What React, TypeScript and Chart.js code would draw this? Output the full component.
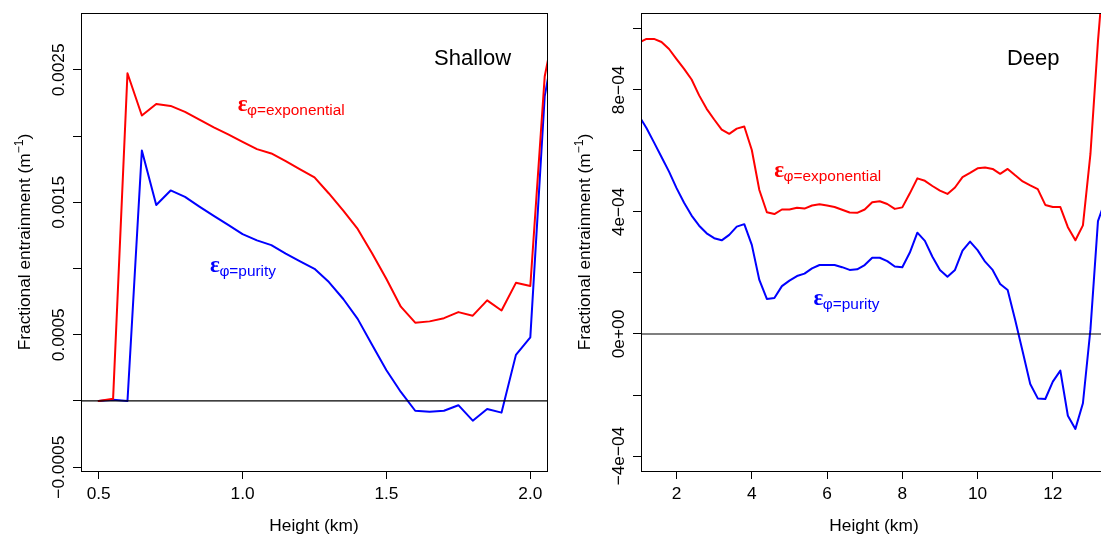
import React, { useEffect, useRef } from "react";
import { Chart, registerables } from "chart.js";

Chart.register(...registerables);

// ---------- Shallow panel data ----------
const shallowHeight = [
  0.5, 0.55, 0.6, 0.65, 0.7, 0.75, 0.8, 0.85, 0.9, 0.95, 1.0, 1.05, 1.1, 1.15, 1.2, 1.25, 1.3,
  1.35, 1.4, 1.45, 1.5, 1.55, 1.6, 1.65, 1.7, 1.75, 1.8, 1.85, 1.9, 1.95, 2.0, 2.05, 2.1,
];
const shallowExponential = [
  0.0, 0.000016, 0.002475, 0.002156, 0.002243, 0.002228, 0.002183, 0.002124, 0.002066, 0.002014,
  0.001957, 0.001902, 0.001869, 0.001811, 0.001749, 0.001689, 0.001567, 0.001437, 0.001299,
  0.001116, 0.000921, 0.000712, 0.000591, 0.000601, 0.000625, 0.000671, 0.000644, 0.00076,
  0.000683, 0.000892, 0.000868, 0.00245, 0.003,
];
const shallowPurity = [
  0.0, 0.00001, 0.0, 0.001892, 0.00148, 0.00159, 0.001541, 0.001468, 0.001398, 0.00133, 0.00126,
  0.001213, 0.001177, 0.001113, 0.001054, 0.000998, 0.000898, 0.00077, 0.00062, 0.000425,
  0.000232, 0.000068, -0.000074, -0.000081, -0.000074, -0.000032, -0.000149, -0.000061,
  -0.000088, 0.000348, 0.00048, 0.0023, 0.0029,
];
const shallowXTicks = [0.5, 1.0, 1.5, 2.0];
const shallowXTickLabels = ["0.5", "1.0", "1.5", "2.0"];
const shallowYTicks = [-0.0005, 0, 0.0005, 0.001, 0.0015, 0.002, 0.0025];
const shallowYTickLabels = ["\u22120.0005", "", "0.0005", "", "0.0015", "", "0.0025"];

// ---------- Deep panel data ----------
const deepHeight = [
  1.0, 1.2, 1.4, 1.6, 1.8, 2.0, 2.2, 2.4, 2.6, 2.8, 3.0, 3.2, 3.4, 3.6, 3.8, 4.0, 4.2, 4.4, 4.6,
  4.8, 5.0, 5.2, 5.4, 5.6, 5.8, 6.0, 6.2, 6.4, 6.6, 6.8, 7.0, 7.2, 7.4, 7.6, 7.8, 8.0, 8.2, 8.4,
  8.6, 8.8, 9.0, 9.2, 9.4, 9.6, 9.8, 10.0, 10.2, 10.4, 10.6, 10.8, 11.0, 11.2, 11.4, 11.6, 11.8,
  12.0, 12.2, 12.4, 12.6, 12.8, 13.0, 13.2, 13.4,
];
const deepExponential = [
  9.55e-4, 9.67e-4, 9.67e-4, 9.57e-4, 9.34e-4, 9.01e-4, 8.69e-4, 8.34e-4, 7.82e-4, 7.38e-4,
  7.03e-4, 6.7e-4, 6.56e-4, 6.73e-4, 6.8e-4, 6.03e-4, 4.72e-4, 3.99e-4, 3.93e-4, 4.08e-4,
  4.08e-4, 4.14e-4, 4.11e-4, 4.21e-4, 4.25e-4, 4.21e-4, 4.16e-4, 4.07e-4, 3.98e-4, 3.97e-4,
  4.08e-4, 4.32e-4, 4.35e-4, 4.26e-4, 4.1e-4, 4.15e-4, 4.61e-4, 5.1e-4, 5.02e-4, 4.85e-4,
  4.7e-4, 4.59e-4, 4.8e-4, 5.14e-4, 5.28e-4, 5.43e-4, 5.46e-4, 5.41e-4, 5.25e-4, 5.41e-4,
  5.2e-4, 5.0e-4, 4.87e-4, 4.75e-4, 4.23e-4, 4.16e-4, 4.16e-4, 3.5e-4, 3.07e-4, 3.56e-4,
  5.9e-4, 9.6e-4, 1.26e-3,
];
const deepPurity = [
  7.15e-4, 6.75e-4, 6.28e-4, 5.8e-4, 5.32e-4, 4.78e-4, 4.3e-4, 3.88e-4, 3.55e-4, 3.3e-4,
  3.14e-4, 3.07e-4, 3.25e-4, 3.52e-4, 3.6e-4, 2.92e-4, 1.77e-4, 1.15e-4, 1.18e-4, 1.57e-4,
  1.75e-4, 1.9e-4, 1.98e-4, 2.15e-4, 2.26e-4, 2.26e-4, 2.26e-4, 2.19e-4, 2.1e-4, 2.12e-4,
  2.26e-4, 2.5e-4, 2.5e-4, 2.39e-4, 2.21e-4, 2.19e-4, 2.67e-4, 3.32e-4, 3.05e-4, 2.53e-4,
  2.1e-4, 1.88e-4, 2.1e-4, 2.73e-4, 3.03e-4, 2.75e-4, 2.37e-4, 2.1e-4, 1.64e-4, 1.44e-4,
  0.46e-4, -0.58e-4, -1.64e-4, -2.11e-4, -2.13e-4, -1.56e-4, -1.2e-4, -2.68e-4, -3.11e-4,
  -2.27e-4, 0.15e-4, 3.7e-4, 4.4e-4,
];
const deepXTicks = [2, 4, 6, 8, 10, 12];
const deepXTickLabels = ["2", "4", "6", "8", "10", "12"];
const deepYTicks = [-4e-4, -2e-4, 0, 2e-4, 4e-4, 6e-4, 8e-4, 1e-3];
const deepYTickLabels = ["\u22124e\u221204", "", "0e+00", "", "4e\u221204", "", "8e\u221204", ""];

const ZERO_LINE = 0;

const RED = "#ff0000";
const BLUE = "#0000ff";
const SANS = '"Liberation Sans", Arial, Helvetica, sans-serif';
const SERIF = '"Liberation Serif", "Times New Roman", serif';

type PanelSpec = {
  title: string;
  titlePos: [number, number];
  x: number[];
  exp: number[];
  pur: number[];
  xMin: number;
  xMax: number;
  yMin: number;
  yMax: number;
  xTicks: number[];
  xTickLabels: string[];
  yTicks: number[];
  yTickLabels: string[];
  expLabelPos: [number, number];
  purLabelPos: [number, number];
};

const shallowSpec: PanelSpec = {
  title: "Shallow",
  titlePos: [1.6655, 0.002534],
  x: shallowHeight,
  exp: shallowExponential,
  pur: shallowPurity,
  xMin: 0.4385,
  xMax: 2.058,
  yMin: -0.000529,
  yMax: 0.00293,
  xTicks: shallowXTicks,
  xTickLabels: shallowXTickLabels,
  yTicks: shallowYTicks,
  yTickLabels: shallowYTickLabels,
  expLabelPos: [0.983, 0.0021926],
  purLabelPos: [0.887, 0.000977],
};

const deepSpec: PanelSpec = {
  title: "Deep",
  titlePos: [10.78, 8.8e-4],
  x: deepHeight,
  exp: deepExponential,
  pur: deepPurity,
  xMin: 1.055,
  xMax: 13.44,
  yMin: -4.49e-4,
  yMax: 10.52e-4,
  xTicks: deepXTicks,
  xTickLabels: deepXTickLabels,
  yTicks: deepYTicks,
  yTickLabels: deepYTickLabels,
  expLabelPos: [4.596, 5.157e-4],
  purLabelPos: [5.64, 0.94e-4],
};

function drawEpsLabel(ctx: CanvasRenderingContext2D, x: number, y: number, color: string, sub: string) {
  ctx.fillStyle = color;
  ctx.textAlign = "left";
  ctx.textBaseline = "alphabetic";
  ctx.font = `bold 23px ${SERIF}`;
  ctx.fillText("\u03b5", x, y);
  const w = ctx.measureText("\u03b5").width;
  ctx.font = `15.4px ${SANS}`;
  ctx.fillText("\u03c6" + sub, x + w - 0.5, y + 4);
}

function framePlugin(spec: PanelSpec) {
  return {
    id: "rframe",
    afterDraw(chart: any) {
      const ctx: CanvasRenderingContext2D = chart.ctx;
      const { left, right, top, bottom } = chart.chartArea;
      const xs = chart.scales.x;
      const ys = chart.scales.y;
      ctx.save();
      // box
      ctx.strokeStyle = "#000";
      ctx.lineWidth = 1;
      ctx.strokeRect(left + 0.5, top + 0.5, right - left, bottom - top);

      ctx.fillStyle = "#000";
      // x tick labels
      ctx.font = `17.3px ${SANS}`;
      ctx.textAlign = "center";
      ctx.textBaseline = "alphabetic";
      spec.xTicks.forEach((v, i) => {
        const lab = spec.xTickLabels[i];
        if (!lab) return;
        ctx.fillText(lab, xs.getPixelForValue(v), 499);
      });
      // y tick labels (rotated)
      spec.yTicks.forEach((v, i) => {
        const lab = spec.yTickLabels[i];
        if (!lab) return;
        ctx.save();
        ctx.translate(64, ys.getPixelForValue(v));
        ctx.rotate(-Math.PI / 2);
        ctx.textAlign = "center";
        ctx.fillText(lab, 0, 0);
        ctx.restore();
      });
      // x title
      ctx.textAlign = "center";
      ctx.fillText("Height (km)", (left + right) / 2, 531);
      // y title with superscript
      ctx.save();
      ctx.translate(30, (top + bottom) / 2);
      ctx.rotate(-Math.PI / 2);
      ctx.textAlign = "left";
      const main = "Fractional entrainment (m";
      ctx.font = `17.3px ${SANS}`;
      const w1 = ctx.measureText(main).width;
      const w3 = ctx.measureText(")").width;
      ctx.font = `12.1px ${SANS}`;
      const w2 = ctx.measureText("\u22121").width;
      const total = w1 + w2 + w3;
      let cx = -total / 2;
      ctx.font = `17.3px ${SANS}`;
      ctx.fillText(main, cx, 0);
      cx += w1;
      ctx.font = `12.1px ${SANS}`;
      ctx.fillText("\u22121", cx, -7);
      cx += w2;
      ctx.font = `17.3px ${SANS}`;
      ctx.fillText(")", cx, 0);
      ctx.restore();

      // clip annotations to plot region
      ctx.save();
      ctx.beginPath();
      ctx.rect(left, top, right - left, bottom - top);
      ctx.clip();
      // panel title
      ctx.font = `22px ${SANS}`;
      ctx.textAlign = "left";
      ctx.fillStyle = "#000";
      ctx.fillText(spec.title, xs.getPixelForValue(spec.titlePos[0]), ys.getPixelForValue(spec.titlePos[1]));
      drawEpsLabel(
        ctx,
        xs.getPixelForValue(spec.expLabelPos[0]),
        ys.getPixelForValue(spec.expLabelPos[1]),
        RED,
        "=exponential"
      );
      drawEpsLabel(
        ctx,
        xs.getPixelForValue(spec.purLabelPos[0]),
        ys.getPixelForValue(spec.purLabelPos[1]),
        BLUE,
        "=purity"
      );
      ctx.restore();
      ctx.restore();
    },
  };
}

function makeConfig(spec: PanelSpec): any {
  const axisGrid = {
    drawOnChartArea: false,
    drawTicks: true,
    tickLength: 8,
    color: "#000",
    tickColor: "#000",
    lineWidth: 1,
  };
  return {
    type: "line",
    data: {
      datasets: [
        {
          label: "zero",
          data: [
            { x: spec.xMin - 1, y: ZERO_LINE },
            { x: spec.xMax + 1, y: ZERO_LINE },
          ],
          borderColor: "#000",
          borderWidth: 1.2,
          pointRadius: 0,
          clip: 0,
        },
        {
          label: "exponential",
          data: spec.x.map((x, i) => ({ x, y: spec.exp[i] })),
          borderColor: RED,
          borderWidth: 2,
          pointRadius: 0,
          borderJoinStyle: "round",
          borderCapStyle: "round",
          clip: 0,
        },
        {
          label: "purity",
          data: spec.x.map((x, i) => ({ x, y: spec.pur[i] })),
          borderColor: BLUE,
          borderWidth: 2,
          pointRadius: 0,
          borderJoinStyle: "round",
          borderCapStyle: "round",
          clip: 0,
        },
      ],
    },
    options: {
      animation: false,
      responsive: false,
      devicePixelRatio: 1,
      layout: { padding: { top: 13, right: 13, left: 0, bottom: 0 } },
      plugins: { legend: { display: false }, tooltip: { enabled: false } },
      elements: { line: { tension: 0, fill: false } },
      scales: {
        x: {
          type: "linear",
          min: spec.xMin,
          max: spec.xMax,
          afterBuildTicks: (s: any) => {
            s.ticks = spec.xTicks.map((v) => ({ value: v }));
          },
          afterFit: (s: any) => {
            s.height = 69;
          },
          grid: axisGrid,
          border: { display: false },
          ticks: { display: false },
        },
        y: {
          type: "linear",
          min: spec.yMin,
          max: spec.yMax,
          afterBuildTicks: (s: any) => {
            s.ticks = spec.yTicks.map((v) => ({ value: v }));
          },
          afterFit: (s: any) => {
            s.width = 81;
          },
          grid: axisGrid,
          border: { display: false },
          ticks: { display: false },
        },
      },
    },
    plugins: [framePlugin(spec)],
  };
}

function Panel({ spec, left }: { spec: PanelSpec; left: number }) {
  const ref = useRef<HTMLCanvasElement>(null);
  useEffect(() => {
    const chart = new Chart(ref.current as HTMLCanvasElement, makeConfig(spec));
    return () => chart.destroy();
  }, [spec]);
  return (
    <canvas
      ref={ref}
      width={560}
      height={540}
      style={{ position: "absolute", left, top: 0, width: 560, height: 540 }}
    />
  );
}

export default function App() {
  return (
    <div
      style={{
        position: "fixed",
        left: 0,
        top: 0,
        width: 1101,
        height: 540,
        overflow: "hidden",
        background: "#ffffff",
      }}
    >
      <Panel spec={shallowSpec} left={0} />
      <Panel spec={deepSpec} left={560} />
    </div>
  );
}
